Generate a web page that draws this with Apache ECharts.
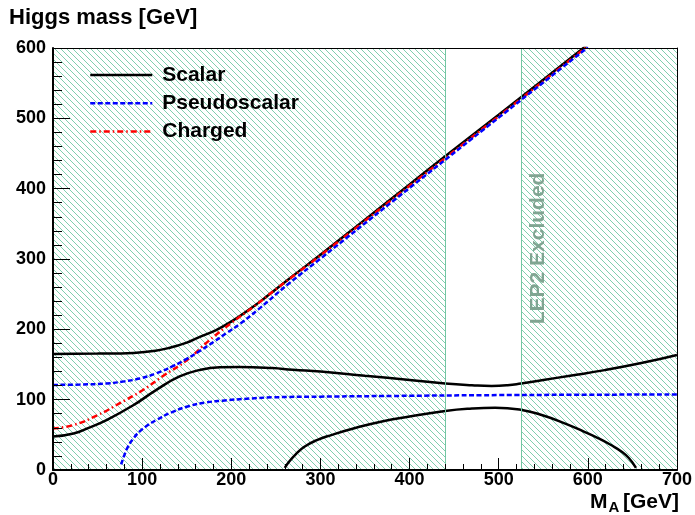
<!DOCTYPE html>
<html><head><meta charset="utf-8">
<script src="https://cdn.jsdelivr.net/npm/echarts@6/dist/echarts.min.js"></script>
<style>html,body{margin:0;padding:0;background:#fff}#c{width:695px;height:515px}</style>
</head><body><div id="c"></div>
<script>
// ---- data ----
const xRange = [0, 700];
const yRange = [0, 600];
const excludedRanges = [[0, 440], [525, 700]];
const excludedEdges = [440, 525];
const legendNames = ['Scalar', 'Pseudoscalar', 'Charged'];

const scalarHeavy = [[0,165],[50,165.5],[90,166.5],[115,169.5],[134,175],[150,181],[164,189],[183,199],[200,211],[220,228],[240,247],[265,272],[300,306],[350,356],[400,406],[440,446],[500,505],[550,555],[600,605]];
const scalarMiddle = [[0,47.5],[23,52],[40,60],[60,71],[90,92],[116,114],[142,133],[164,142],[187,146],[209,146.5],[246,145],[269,142.5],[300,140],[350,134],[400,128],[440,123],[470,120.5],[492,119.5],[510,120.5],[525,123],[550,128],[580,134],[619,142],[660,152],[700,163.5]];
const scalarLight = [[260,3],[265,12],[272,22],[282,33],[296,42.5],[313,50],[340,60],[369,69],[400,76],[440,84],[470,87.5],[496,88.6],[526,85.3],[550,77.5],[574,66.4],[595,55],[612,45],[626,35.5],[638,26],[646,17],[654,3]];
const pseudoHeavy = [[0,121],[30,121.5],[60,123],[80,126],[97,130],[116,137.5],[135,148],[150,158],[165,169.5],[180,182],[195,195],[210,208],[230,228],[265,265.5],[300,300.5],[400,401],[500,501],[600,601]];
const pseudoLight = [[76.5,8],[80,21],[84,33],[90,44.5],[97,54.5],[106,63.5],[116,71],[133,82],[153,91],[172,96],[190,98.6],[220,101.5],[246,103.3],[300,104.3],[400,105.5],[500,106.5],[600,107],[700,107.5]];
const charged = [[0,59],[23,64],[50,78],[75,95],[100,113],[125,135],[150,156],[175,184],[200,209],[225,232],[250,257],[300,305],[400,404],[500,503],[600,603]];

// ---- styling ----
const FONT = '"Liberation Sans", Arial, Helvetica, sans-serif';
const hatchColor = '#80cfae';
function makeHatch() {
  const s = 6, cv = document.createElement('canvas');
  cv.width = s; cv.height = s;
  const ctx = cv.getContext('2d');
  ctx.fillStyle = hatchColor;
  for (let i = 0; i < s; i++) ctx.fillRect(i, i, 1, 1);
  return cv;
}
const hatch = { image: makeHatch(), repeat: 'repeat' };

const chart = echarts.init(document.getElementById('c'), null, { renderer: 'canvas' });

function lineSeries(name, data, color, type, z) {
  return {
    name, type: 'line', data, showSymbol: false, symbol: 'none',
    smooth: 0.5, z: z, silent: true, animation: false,
    lineStyle: { color, width: 2.5, type },
    itemStyle: { color }
  };
}

const option = {
  animation: false,
  grid: { left: 53, right: 16, top: 48, bottom: 45, containLabel: false },
  legend: {
    data: legendNames, orient: 'vertical', left: 89, top: 64.5, padding: 0,
    itemWidth: 62, itemHeight: 14, itemGap: 7.3,
    itemStyle: { opacity: 0 },
    lineStyle: { width: 2.5 },
    textStyle: { fontSize: 21, fontWeight: 'bold', color: '#000', fontFamily: FONT, lineHeight: 21, padding: [0, 0, 0, 5] },
    selectedMode: false
  },
  xAxis: [{
    type: 'value', min: xRange[0], max: xRange[1], interval: 100, z: 10,
    axisLine: { show: true, onZero: false, lineStyle: { color: '#000', width: 2 } },
    axisTick: { show: true, inside: true, length: 12, lineStyle: { color: '#000', width: 1 } },
    minorTick: { show: true, splitNumber: 5, length: 6, lineStyle: { color: '#000', width: 1 } },
    splitLine: { show: false },
    axisLabel: { fontSize: 18, fontWeight: 'bold', color: '#000', fontFamily: FONT, margin: 1 }
  }, {
    type: 'value', position: 'top', min: xRange[0], max: xRange[1], z: 10,
    axisLine: { show: true, onZero: false, lineStyle: { color: '#000', width: 1 } },
    axisTick: { show: false }, axisLabel: { show: false }, splitLine: { show: false }
  }],
  yAxis: [{
    type: 'value', min: yRange[0], max: yRange[1], interval: 100, z: 10,
    axisLine: { show: true, onZero: false, lineStyle: { color: '#000', width: 2 } },
    axisTick: { show: true, inside: true, length: 17, lineStyle: { color: '#000', width: 1 } },
    minorTick: { show: true, splitNumber: 5, length: 9, lineStyle: { color: '#000', width: 1 } },
    splitLine: { show: false },
    axisLabel: { fontSize: 18, fontWeight: 'bold', color: '#000', fontFamily: FONT, margin: 7 }
  }, {
    type: 'value', position: 'right', min: yRange[0], max: yRange[1], z: 10,
    axisLine: { show: true, onZero: false, lineStyle: { color: '#000', width: 1 } },
    axisTick: { show: false }, axisLabel: { show: false }, splitLine: { show: false }
  }],
  series: [
    {
      name: 'hatch', type: 'line', data: [], z: 1, silent: true,
      markArea: {
        silent: true,
        itemStyle: { color: hatch, borderWidth: 0 },
        data: excludedRanges.map(r => [{ xAxis: r[0], yAxis: yRange[0] }, { xAxis: r[1], yAxis: yRange[1] }])
      },
      markLine: {
        silent: true, symbol: ['none', 'none'], animation: false,
        label: { show: false },
        lineStyle: { color: '#72c6a2', width: 1, type: 'solid' },
        data: excludedEdges.map(v => ({ xAxis: v }))
      }
    },
    lineSeries('Scalar', scalarHeavy, '#000000', 'solid', 3),
    lineSeries('Scalar', scalarMiddle, '#000000', 'solid', 3),
    lineSeries('Scalar', scalarLight, '#000000', 'solid', 3),
    lineSeries('Charged', charged, '#ff0000', [6, 3, 1.5, 3], 4),
    lineSeries('Pseudoscalar', pseudoHeavy, '#0000ff', [5, 2.5], 5),
    lineSeries('Pseudoscalar', pseudoLight, '#0000ff', [5, 2.5], 5)
  ]
};
chart.setOption(option);

const lep = chart.convertToPixel({ gridIndex: 0 }, [544, 315]);
const bold21 = 'bold 21px ' + FONT;
chart.setOption({
  graphic: [
    { type: 'text', left: 9, top: 7, z: 20, style: { text: 'Higgs mass [GeV]', font: 'bold 22px ' + FONT, fill: '#000' } },
    { type: 'text', x: lep[0], y: lep[1], rotation: Math.PI / 2, z: 20,
      style: { text: 'LEP2 Excluded', font: 'bold 21px ' + FONT, fill: '#80a592', align: 'center', verticalAlign: 'middle' } },
    { type: 'text', x: 590, y: 502.5, z: 20, style: { text: 'M', font: bold21, fill: '#000', align: 'left', verticalAlign: 'middle' } },
    { type: 'text', x: 608.5, y: 507.5, z: 20, style: { text: 'A', font: 'bold 15px ' + FONT, fill: '#000', align: 'left', verticalAlign: 'middle' } },
    { type: 'text', x: 679, y: 502.5, z: 20, style: { text: '[GeV]', font: bold21, fill: '#000', align: 'right', verticalAlign: 'middle' } }
  ]
});
</script>
</body></html>
